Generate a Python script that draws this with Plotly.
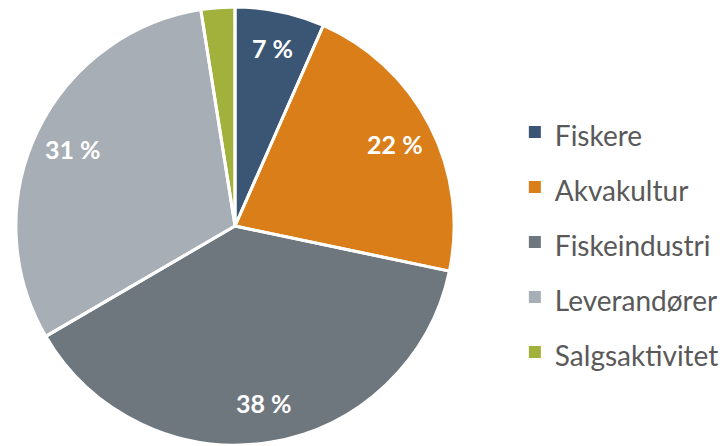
import plotly.graph_objects as go

categories = ["Fiskere", "Akvakultur", "Fiskeindustri", "Leverandører", "Salgsaktivitet"]
shares = [6.6, 21.7, 38.3, 30.9, 2.5]
shown_labels = ["7 %", "22 %", "38 %", "31 %", ""]
colors = ["#3B5675", "#D97E18", "#6E767E", "#A8AEB5", "#A2B03C"]

W, H = 724, 446
cx, cy, r = 236, 226, 220
dom_x = [(cx - r) / W, (cx + r) / W]
dom_y = [(H - cy - r) / H, (H - cy + r) / H]

legend_labels = [
    " <br> <br> <br><span style='font-size:28px'>%s</span><br> " % c for c in categories
]

common = dict(values=shares, sort=False, direction="clockwise", rotation=0,
              hoverinfo="skip", domain=dict(x=dom_x, y=dom_y))

fig = go.Figure()
# filled slices (legend source)
fig.add_trace(go.Pie(
    labels=legend_labels,
    marker=dict(colors=colors, line=dict(width=0)),
    textinfo="none",
    **common,
))
# white separators
fig.add_trace(go.Pie(
    labels=categories,
    marker=dict(colors=["rgba(0,0,0,0)"] * len(categories), line=dict(color="white", width=3)),
    textinfo="none",
    showlegend=False,
    **common,
))
# percentage labels placed in the outer ring
fig.add_trace(go.Pie(
    labels=categories,
    hole=0.64,
    marker=dict(colors=["rgba(0,0,0,0)"] * len(categories), line=dict(width=0)),
    text=shown_labels,
    textinfo="text",
    textposition="inside",
    insidetextorientation="horizontal",
    insidetextfont=dict(family="Lato", size=25, color="white", weight="bold"),
    showlegend=False,
    **common,
))

fig.update_layout(
    width=W, height=H,
    autosize=False,
    margin=dict(l=0, r=0, t=0, b=0),
    paper_bgcolor="white",
    plot_bgcolor="white",
    showlegend=True,
    legend=dict(
        x=517 / W, xanchor="left",
        y=1 - 242 / H, yanchor="middle",
        font=dict(family="Lato", size=8, color="#595959"),
        bgcolor="rgba(0,0,0,0)",
        traceorder="normal",
    ),
)

fig.write_html("out.html")
